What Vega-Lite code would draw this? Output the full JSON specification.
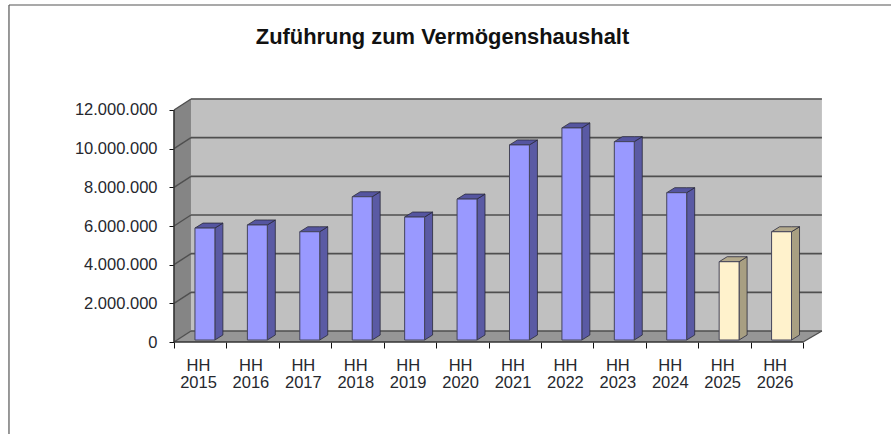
{
"$schema":"https://vega.github.io/schema/vega-lite/v6.json",
"width":891,"height":434,"padding":0,"autosize":{"type":"none"},
"background":"white",
"config":{"view":{"stroke":null},"axis":{"title":null,"grid":false,"domain":false}},
"title":{"text":"Zuführung zum Vermögenshaushalt","font":"Liberation Sans","fontSize":21.9,"fontWeight":"bold","color":"#111111","anchor":"middle","frame":"group","offset":0,"dy":49,"dx":-3},
"datasets":{
"one":[{"n":1}],
"bars":[
{"year":2015,"value":5790000,"type":"Ist"},
{"year":2016,"value":5950000,"type":"Ist"},
{"year":2017,"value":5600000,"type":"Ist"},
{"year":2018,"value":7410000,"type":"Ist"},
{"year":2019,"value":6360000,"type":"Ist"},
{"year":2020,"value":7290000,"type":"Ist"},
{"year":2021,"value":10090000,"type":"Ist"},
{"year":2022,"value":10970000,"type":"Ist"},
{"year":2023,"value":10260000,"type":"Ist"},
{"year":2024,"value":7620000,"type":"Ist"},
{"year":2025,"value":4050000,"type":"Plan"},
{"year":2026,"value":5600000,"type":"Plan"}],
"grid":[{"v":0},{"v":2000000},{"v":4000000},{"v":6000000},{"v":8000000},{"v":10000000},{"v":12000000}],
"sidewall":[{"x":0,"lo":0,"hi":12000000},{"x":0.324,"lo":569000,"hi":12569000}],
"floor":[{"x":0,"lo":0,"hi":0},{"x":0.324,"lo":0,"hi":569000},{"x":12,"lo":0,"hi":569000},{"x":12.36,"lo":569000,"hi":569000}]
},
"layer":[
{"data":{"name":"one"},"mark":{"type":"rule","color":"#555555","strokeWidth":1.2},
 "encoding":{
  "x":{"datum":-3.148,"type":"quantitative","scale":{"domain":[-3.3193,13.678],"nice":false,"zero":false},
   "axis":{"orient":"bottom","offset":-92,"values":[0,1,2,3,4,5,6,7,8,9,10,11,12],"tickSize":6,"tickColor":"#111111","labelOffset":24,"labelPadding":9,"labelAlign":"center","labelBaseline":"top","labelOverlap":false,"labelFlush":false,"labelFont":"Liberation Sans","labelFontSize":16.5,"labelColor":"#26282e","labelLineHeight":17,
   "labelExpr":"datum.value<12 ? ['HH', ''+(2015+datum.value)] : ''"}},
  "y":{"datum":-4758621,"type":"quantitative","scale":{"domain":[-4758621,17689655],"nice":false,"zero":false},
   "axis":{"orient":"left","offset":-174,"values":[0,2000000,4000000,6000000,8000000,10000000,12000000],"tickSize":5,"tickColor":"#111111","labelPadding":12,"labelFont":"Liberation Sans","labelFontSize":16.5,"labelColor":"#26282e","labelOverlap":false,"labelFlush":false,
   "labelExpr":"replace(format(datum.value,','),/,/g,'.')"}},
  "y2":{"datum":17430000}}},
{"data":{"name":"one"},"mark":{"type":"rule","color":"#555555","strokeWidth":1.2},
 "encoding":{"x":{"datum":-3.148,"type":"quantitative"},"x2":{"datum":13.678},"y":{"datum":17430000,"type":"quantitative"}}},
{"data":{"name":"one"},"mark":{"type":"rect","color":"#c0c0c0"},
 "encoding":{"x":{"datum":0.324,"type":"quantitative"},"x2":{"datum":12.36},"y":{"datum":569000,"type":"quantitative"},"y2":{"datum":12600000}}},
{"data":{"name":"sidewall"},"mark":{"type":"area","color":"#858585"},
 "encoding":{"x":{"field":"x","type":"quantitative"},"y":{"field":"lo","type":"quantitative","stack":null},"y2":{"field":"hi"}}},
{"data":{"name":"floor"},"mark":{"type":"area","color":"#969696"},
 "encoding":{"x":{"field":"x","type":"quantitative"},"y":{"field":"lo","type":"quantitative","stack":null},"y2":{"field":"hi"}}},
{"data":{"name":"grid"},"transform":[{"calculate":"datum.v+569000","as":"back"}],
 "mark":{"type":"rule","color":"#4f4f4f","strokeWidth":1.6},
 "encoding":{"x":{"datum":0.324,"type":"quantitative"},"x2":{"datum":12.36},"y":{"field":"back","type":"quantitative"}}},
{"data":{"name":"grid"},"transform":[{"calculate":"datum.v+569000","as":"back"}],
 "mark":{"type":"rule","color":"#4f4f4f","strokeWidth":1.4},
 "encoding":{"x":{"datum":0,"type":"quantitative"},"x2":{"datum":0.324},"y":{"field":"v","type":"quantitative"},"y2":{"field":"back"}}},
{"data":{"name":"one"},"mark":{"type":"rule","color":"#333333","strokeWidth":1.6},
 "encoding":{"x":{"datum":0,"type":"quantitative"},"y":{"datum":0,"type":"quantitative"},"y2":{"datum":12000000}}},
{"data":{"name":"one"},"mark":{"type":"rule","color":"#333333","strokeWidth":1.6},
 "encoding":{"x":{"datum":0,"type":"quantitative"},"x2":{"datum":12},"y":{"datum":0,"type":"quantitative"}}},
{"data":{"name":"one"},"mark":{"type":"rule","color":"#4f4f4f","strokeWidth":1.4},
 "encoding":{"x":{"datum":12,"type":"quantitative"},"x2":{"datum":12.36},"y":{"datum":0,"type":"quantitative"},"y2":{"datum":569000}}},
{"data":{"name":"bars"},
 "transform":[
  {"calculate":"[0,1]","as":"p"},{"flatten":["p"]},
  {"calculate":"datum.year-2015+0.78+datum.p*0.153","as":"sx"},
  {"calculate":"103000+datum.p*258000","as":"lo"},
  {"calculate":"datum.value+103000+datum.p*258000","as":"hi"}],
 "mark":{"type":"area","stroke":"#2a2a3a","strokeWidth":0.8},
 "encoding":{"x":{"field":"sx","type":"quantitative"},
  "y":{"field":"lo","type":"quantitative","stack":null},"y2":{"field":"hi"},
  "detail":{"field":"year"},
  "color":{"field":"type","type":"nominal","legend":null,"scale":{"domain":["Ist","Plan"],"range":["#5a5aa4","#a89f82"]}}}},
{"data":{"name":"bars"},
 "transform":[
  {"calculate":"[0,1,2,3]","as":"p"},{"flatten":["p"]},
  {"calculate":"datum.year-2015+0.40+[0,0.153,0.38,0.533][datum.p]","as":"tx"},
  {"calculate":"datum.value+103000+(datum.p==3?258000:0)","as":"lo"},
  {"calculate":"datum.value+103000+(datum.p==0?0:258000)","as":"hi"}],
 "mark":{"type":"area","stroke":"#2a2a3a","strokeWidth":0.8,"fillOpacity":1},
 "encoding":{"x":{"field":"tx","type":"quantitative"},
  "y":{"field":"lo","type":"quantitative","stack":null},"y2":{"field":"hi"},
  "detail":{"field":"year"},
  "fill":{"field":"type","type":"nominal","legend":null,"scale":{"domain":["Ist","Plan"],"range":["#5555a0","#b3a98c"]}}}},
{"data":{"name":"bars"},
 "transform":[
  {"calculate":"datum.year-2015+0.40","as":"x0"},
  {"calculate":"datum.year-2015+0.78","as":"x1"},
  {"calculate":"103000","as":"base"},
  {"calculate":"datum.value+103000","as":"top"}],
 "mark":{"type":"rect","stroke":"#44445a","strokeWidth":1},
 "encoding":{"x":{"field":"x0","type":"quantitative"},"x2":{"field":"x1"},
  "y":{"field":"base","type":"quantitative"},"y2":{"field":"top"},
  "fill":{"field":"type","type":"nominal","legend":null,"scale":{"domain":["Ist","Plan"],"range":["#9999ff","#fff2cc"]}}}}
],
"resolve":{"scale":{"color":"independent","fill":"independent"}}
}
